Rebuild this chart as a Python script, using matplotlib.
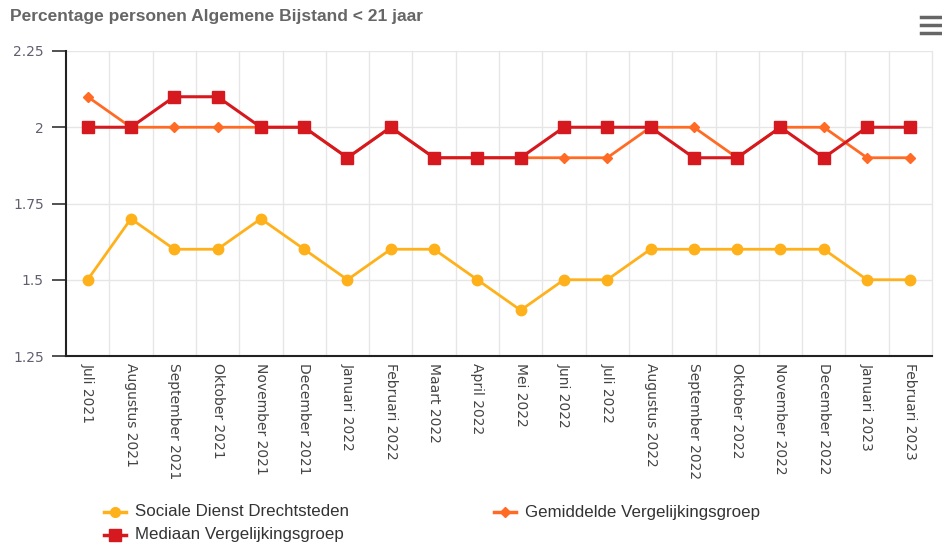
import matplotlib
matplotlib.use("Agg")
import matplotlib.pyplot as plt
from matplotlib.lines import Line2D

plt.rcParams['font.family'] = ['Liberation Sans', 'DejaVu Sans']

categories = ["Juli 2021", "Augustus 2021", "September 2021", "Oktober 2021", "November 2021",
              "December 2021", "Januari 2022", "Februari 2022", "Maart 2022", "April 2022",
              "Mei 2022", "Juni 2022", "Juli 2022", "Augustus 2022", "September 2022",
              "Oktober 2022", "November 2022", "December 2022", "Januari 2023", "Februari 2023"]
sociale = [1.5, 1.7, 1.6, 1.6, 1.7, 1.6, 1.5, 1.6, 1.6, 1.5, 1.4, 1.5, 1.5, 1.6, 1.6, 1.6, 1.6, 1.6, 1.5, 1.5]
gemiddelde = [2.1, 2.0, 2.0, 2.0, 2.0, 2.0, 1.9, 2.0, 1.9, 1.9, 1.9, 1.9, 1.9, 2.0, 2.0, 1.9, 2.0, 2.0, 1.9, 1.9]
mediaan = [2.0, 2.0, 2.1, 2.1, 2.0, 2.0, 1.9, 2.0, 1.9, 1.9, 1.9, 2.0, 2.0, 2.0, 1.9, 1.9, 2.0, 1.9, 2.0, 2.0]
yticks = [1.25, 1.5, 1.75, 2.0, 2.25]
ytick_labels = ["1.25", "1.5", "1.75", "2", "2.25"]

c_soc = "#FFB11B"
c_gem = "#FF6A25"
c_med = "#D6181F"

fig = plt.figure(figsize=(9.42, 5.45), dpi=100)
W, H = 942, 545
ax = fig.add_axes([66 / W, 1 - 356 / H, (932 - 66) / W, (356 - 51) / H])

x = list(range(len(categories)))
ax.plot(x, sociale, color=c_soc, lw=2, marker='o', ms=7.5, zorder=3)
ax.plot(x, gemiddelde, color=c_gem, lw=2, marker='D', ms=5, zorder=4)
ax.plot(x, mediaan, color=c_med, lw=2.2, marker='s', ms=8, zorder=5)

ax.set_xlim(-0.5, len(categories) - 0.5)
ax.set_ylim(1.25, 2.25)
ax.set_yticks(yticks)
ax.set_yticklabels(ytick_labels, fontsize=10, color="#606070", family='DejaVu Sans')
ax.set_xticks(x)
ax.set_xticklabels(categories, rotation=-90, fontsize=10, color="#444444", va='top', ha='center',
                   family='DejaVu Sans')
ax.tick_params(axis='x', length=0, pad=5)
ax.tick_params(axis='y', length=10, width=1.2, color="#333333", pad=6)

# grid
for xi in [i + 0.5 for i in range(len(categories))]:
    ax.axvline(xi, color="#e6e6e6", lw=1, zorder=0, clip_on=False)
for yv in yticks:
    ax.axhline(yv, color="#e6e6e6", lw=1, zorder=0)

for s in ['top', 'right']:
    ax.spines[s].set_visible(False)
ax.spines['left'].set_color("#222222")
ax.spines['bottom'].set_color("#222222")
ax.spines['left'].set_linewidth(1.5)
ax.spines['bottom'].set_linewidth(1.5)

fig.text(10 / W, 1 - 17 / H, "Percentage personen Algemene Bijstand < 21 jaar",
         fontsize=12.5, fontweight='bold', color="#666666", va='center', ha='left')

# hamburger icon
for yy in [17, 25, 33]:
    fig.add_artist(Line2D([921 / W, 942 / W], [1 - yy / H, 1 - yy / H], color="#666666", lw=2.5))

# legend
items = [(c_soc, 'o', 7, "Sociale Dienst Drechtsteden", 115, 512),
         (c_gem, 'D', 5, "Gemiddelde Vergelijkingsgroep", 505, 512),
         (c_med, 's', 8, "Mediaan Vergelijkingsgroep", 115, 535)]
for col, mk, ms, label, lx, ly in items:
    fig.add_artist(Line2D([(lx - 11) / W, (lx + 11) / W], [1 - ly / H, 1 - ly / H],
                          color=col, lw=2.5))
    fig.add_artist(Line2D([lx / W], [1 - ly / H], color=col, marker=mk, ms=ms, lw=0))
    fig.text((lx + 20) / W, 1 - ly / H, label, fontsize=12.2, color="#333333", va='center', ha='left')

fig.savefig("out.png", dpi=100)
